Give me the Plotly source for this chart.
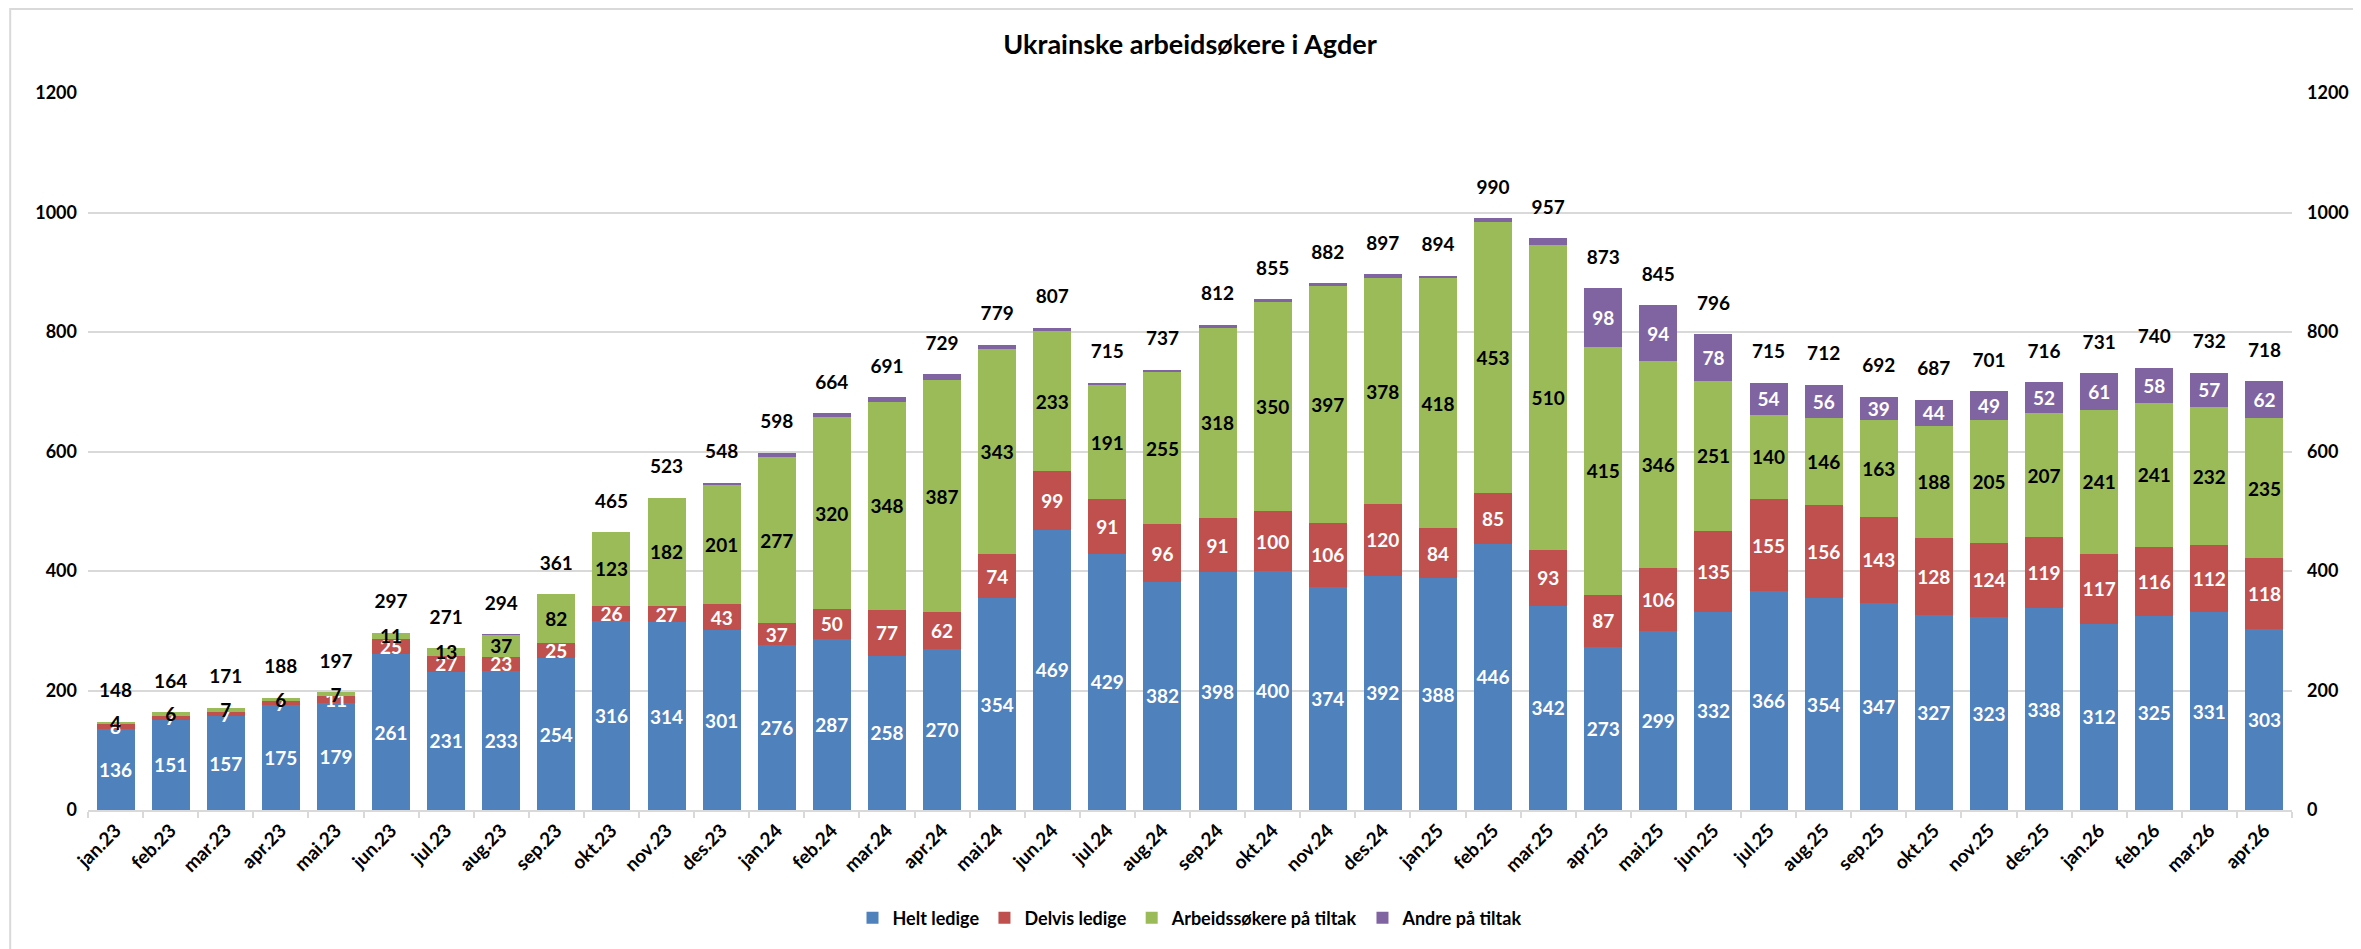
import plotly.graph_objects as go

categories = ["jan.23", "feb.23", "mar.23", "apr.23", "mai.23", "jun.23", "jul.23", "aug.23",
              "sep.23", "okt.23", "nov.23", "des.23", "jan.24", "feb.24", "mar.24", "apr.24",
              "mai.24", "jun.24", "jul.24", "aug.24", "sep.24", "okt.24", "nov.24", "des.24",
              "jan.25", "feb.25", "mar.25", "apr.25", "mai.25", "jun.25", "jul.25", "aug.25",
              "sep.25", "okt.25", "nov.25", "des.25", "jan.26", "feb.26", "mar.26", "apr.26"]

helt_ledige = [136, 151, 157, 175, 179, 261, 231, 233, 254, 316, 314, 301, 276, 287, 258, 270,
               354, 469, 429, 382, 398, 400, 374, 392, 388, 446, 342, 273, 299, 332, 366, 354,
               347, 327, 323, 338, 312, 325, 331, 303]
delvis_ledige = [8, 7, 7, 7, 11, 25, 27, 23, 25, 26, 27, 43, 37, 50, 77, 62,
                 74, 99, 91, 96, 91, 100, 106, 120, 84, 85, 93, 87, 106, 135, 155, 156,
                 143, 128, 124, 119, 117, 116, 112, 118]
arbeidssokere_tiltak = [4, 6, 7, 6, 7, 11, 13, 37, 82, 123, 182, 201, 277, 320, 348, 387,
                        343, 233, 191, 255, 318, 350, 397, 378, 418, 453, 510, 415, 346, 251, 140, 146,
                        163, 188, 205, 207, 241, 241, 232, 235]
andre_tiltak = [0, 0, 0, 0, 0, 0, 0, 1, 0, 0, 0, 3, 8, 7, 8, 10,
                8, 6, 4, 4, 5, 5, 5, 7, 4, 6, 12, 98, 94, 78, 54, 56,
                39, 44, 49, 52, 61, 58, 57, 62]
totals = [148, 164, 171, 188, 197, 297, 271, 294, 361, 465, 523, 548, 598, 664, 691, 729,
          779, 807, 715, 737, 812, 855, 882, 897, 894, 990, 957, 873, 845, 796, 715, 712,
          692, 687, 701, 716, 731, 740, 732, 718]
# purple labels are only shown from apr.25 onward in the reference
andre_label_visible = [False] * 27 + [True] * 13

FONT = "Lato"

series = [
    ("Helt ledige", helt_ledige, "#4F81BD", "white", [True] * 40),
    ("Delvis ledige", delvis_ledige, "#C0504D", "white", [True] * 40),
    ("Arbeidssøkere på tiltak", arbeidssokere_tiltak, "#9BBB59", "black", [True] * 40),
    ("Andre på tiltak", andre_tiltak, "#8064A2", "white", andre_label_visible),
]

fig = go.Figure()
for name, vals, color, tcolor, vis in series:
    fig.add_trace(go.Bar(
        x=categories, y=vals, name=name,
        marker=dict(color=color, line=dict(width=0)),
        text=[str(v) if show else "" for v, show in zip(vals, vis)],
        textposition="inside", insidetextanchor="middle", textangle=0,
        constraintext="none",
        textfont=dict(family=FONT, size=19, color=tcolor, weight=700),
    ))

fig.add_trace(go.Scatter(
    x=categories, y=totals, mode="markers+text", yaxis="y2",
    text=[str(t) for t in totals], textposition="top center",
    marker=dict(size=30, opacity=0),
    textfont=dict(family=FONT, size=19, color="black", weight=700),
    showlegend=False, hoverinfo="skip",
))

# page has an 8px body margin, so the figure is offset by 8px right and down
W, H = 2353, 941
L, R, T, B = 80, 66, 85, 139

fig.update_layout(
    width=W, height=H,
    barmode="stack", bargap=0.31,
    paper_bgcolor="white", plot_bgcolor="white",
    margin=dict(l=L, r=R, t=T, b=B),
    font=dict(family=FONT, color="black"),
    title=dict(text="Ukrainske arbeidsøkere i Agder", x=0.5, xanchor="center",
               xref="paper", y=1 - 37 / H, yref="container", yanchor="middle",
               font=dict(family=FONT, size=27, color="black", weight=700)),
    xaxis=dict(type="category", range=[-0.5, 39.5], tickangle=-45, showgrid=False,
               showline=True, linecolor="#D9D9D9", linewidth=2,
               ticks="outside", tickson="boundaries", ticklen=6, tickcolor="#D9D9D9", tickwidth=2,
               tickfont=dict(family=FONT, size=19, color="black", weight=700)),
    yaxis=dict(range=[0, 1200], dtick=200, showgrid=True, gridcolor="#D9D9D9", gridwidth=2,
               zeroline=False, showline=False, ticks="", ticklabelstandoff=10,
               tickfont=dict(family=FONT, size=18, color="black", weight=700)),
    yaxis2=dict(range=[0, 1200], dtick=200, overlaying="y", side="right", showgrid=False,
                zeroline=False, showline=False, ticks="", ticklabelstandoff=14,
                tickfont=dict(family=FONT, size=18, color="black", weight=700)),
    legend=dict(orientation="h", x=0.5, xanchor="center", y=-0.1506, yanchor="middle",
                font=dict(family=FONT, size=18, color="black", weight=700),
                traceorder="normal", itemwidth=30, bgcolor="rgba(0,0,0,0)"),
    shapes=[dict(type="rect", xref="paper", yref="paper",
                 x0=-0.0353, x1=1.2, y0=-0.3, y1=1.117,
                 line=dict(color="#D9D9D9", width=2), fillcolor="rgba(0,0,0,0)", layer="below")],
)

fig.write_html("out.html")
